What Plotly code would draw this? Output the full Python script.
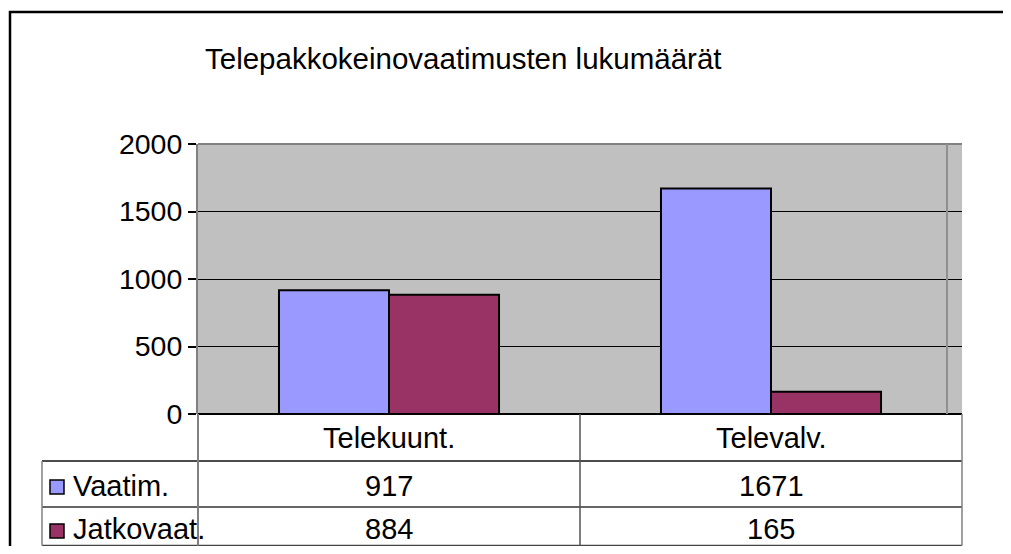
import plotly.graph_objects as go

# ---- data ----
title_text = "Telepakkokeinovaatimusten lukumäärät"
categories = ["Telekuunt.", "Televalv."]
series_names = ["Vaatim.", "Jatkovaat."]
vaatim = [917, 1671]
jatkovaat = [884, 165]
series_values = [vaatim, jatkovaat]
series_colors = ["#9999FF", "#993366"]
y_ticks = [0, 500, 1000, 1500, 2000]

FONT = "Liberation Sans, Arial, sans-serif"
OFF = 8  # page body margin compensation
W, H = 1011 - 2 * OFF, 554 - 2 * OFF
# plot area in page pixels
L, R, T, B = 198, 962, 144, 414


def px(x):
    return (x - L) / (R - L)


def py(y):
    return (B - y) / (B - T)


fig = go.Figure()
for name, vals, col in zip(series_names, series_values, series_colors):
    fig.add_trace(go.Bar(
        x=categories, y=vals, name=name,
        marker=dict(color=col, line=dict(color="black", width=2)),
        showlegend=False,
    ))

shapes = []


def line(x0, y0, x1, y1, color="black", width=1.5):
    shapes.append(dict(type="line", xref="paper", yref="paper",
                       x0=px(x0), y0=py(y0), x1=px(x1), y1=py(y1),
                       line=dict(color=color, width=width), layer="above"))


# plot area decorations
line(L, T, R, T, "#808080", 2)
line(947, T, 947, B, "#909090", 2)
# outer chart border
shapes.append(dict(type="rect", xref="paper", yref="paper",
                   x0=px(10), y0=py(12), x1=px(1060), y1=py(600),
                   line=dict(color="black", width=2.5), layer="above"))

# data table
tab_left = 42
tab_bottom = 545.5
line(tab_left, 461, R, 461, "#111", 1.5)
line(tab_left, 507, R, 507, "#333", 1.5)
line(tab_left, tab_bottom, R, tab_bottom, "#444", 1.5)
line(tab_left, 461, tab_left, tab_bottom, "#808080", 1.5)
line(L, B, L, tab_bottom, "#808080", 2)
line(580, B, 580, tab_bottom, "#555", 1.5)
line(R, B, R, tab_bottom, "#808080", 1.5)

annotations = []
annotations.append(dict(text=title_text, xref="paper", yref="paper",
                        x=px(463), y=py(58), xanchor="center", yanchor="middle",
                        showarrow=False, font=dict(family=FONT, size=29.5, color="black")))

cat_centers = [389, 771]
for c, cx in zip(categories, cat_centers):
    annotations.append(dict(text=c, xref="paper", yref="paper", x=px(cx), y=py(438),
                            xanchor="center", yanchor="middle", showarrow=False,
                            font=dict(family=FONT, size=29, color="black")))

row_centers = [486, 529]
key_tops = [480, 524]
for name, vals, col, rc, kt in zip(series_names, series_values, series_colors, row_centers, key_tops):
    shapes.append(dict(type="rect", xref="paper", yref="paper",
                       x0=px(50), y0=py(kt), x1=px(64), y1=py(kt + 14),
                       fillcolor=col, line=dict(color="black", width=1.5), layer="above"))
    annotations.append(dict(text=name, xref="paper", yref="paper", x=px(71), y=py(rc),
                            xanchor="left", yanchor="middle", showarrow=False,
                            font=dict(family=FONT, size=29, color="black")))
    for v, cx in zip(vals, cat_centers):
        annotations.append(dict(text=str(v), xref="paper", yref="paper", x=px(cx), y=py(rc),
                                xanchor="center", yanchor="middle", showarrow=False,
                                font=dict(family=FONT, size=29, color="black")))

fig.update_layout(
    width=W, height=H, autosize=False,
    margin=dict(l=L - OFF, r=W - (R - OFF), t=T - OFF, b=H - (B - OFF), pad=0),
    paper_bgcolor="white", plot_bgcolor="#C0C0C0",
    barmode="group", bargap=0.424, bargroupgap=0,
    shapes=shapes, annotations=annotations,
    xaxis=dict(type="category", range=[-0.5, 1.5], showticklabels=False,
               showgrid=False, zeroline=False, showline=False, ticks=""),
    yaxis=dict(range=[0, 2000], tickvals=y_ticks, ticks="outside", ticklen=8,
               tickcolor="black", tickwidth=1.5, showgrid=True, gridcolor="black",
               gridwidth=1, zeroline=True, zerolinecolor="black", zerolinewidth=1.5,
               showline=True, linecolor="#808080", linewidth=2,
               tickfont=dict(family=FONT, size=28.5, color="black")),
)

fig.write_html("out.html")
